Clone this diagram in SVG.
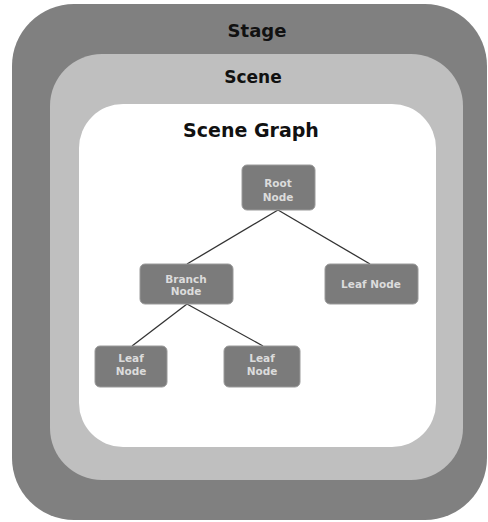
<svg xmlns="http://www.w3.org/2000/svg" width="488" height="522" viewBox="0 0 488 522">
<style>
.title{font-family:"DejaVu Sans",Verdana,sans-serif;font-weight:bold;fill:#111;text-anchor:middle}
.node rect{fill:#7b7b7b;stroke:#9a9a9a;stroke-width:1}
.node text{font-family:"DejaVu Sans",Verdana,sans-serif;font-size:10.5px;font-weight:bold;fill:#dcdcdc;text-anchor:middle}
.edge{stroke:#333;stroke-width:1.3;fill:none}
</style>
<rect width="488" height="522" fill="#fff"/>
<g id="stage">
<rect x="12" y="4" width="475" height="516" rx="62" fill="#808080"/>
<text class="title" x="257" y="37" font-size="18">Stage</text>
</g>
<g id="scene">
<rect x="50" y="54" width="413" height="426" rx="52" fill="#bfbfbf"/>
<text class="title" x="253" y="83" font-size="17">Scene</text>
</g>
<g id="scene-graph">
<rect x="79" y="104" width="357" height="343" rx="44" fill="#fff"/>
<text class="title" x="251" y="137" font-size="19">Scene Graph</text>
</g>
<g id="connectors">
<line class="edge" x1="278" y1="210" x2="187" y2="264"/>
<line class="edge" x1="278" y1="210" x2="370" y2="264"/>
<line class="edge" x1="187" y1="304" x2="132" y2="346"/>
<line class="edge" x1="187" y1="304" x2="263" y2="346"/>
</g>
<g id="root" class="node">
<rect x="242" y="165" width="73" height="45" rx="5"/>
<text x="278" y="187">Root</text>
<text x="278" y="201">Node</text>
</g>
<g id="leaf-right" class="node">
<rect x="325" y="264" width="93" height="40" rx="5"/>
<text x="371" y="288">Leaf Node</text>
</g>
<g id="branch" class="node">
<rect x="140" y="264" width="93" height="40" rx="5"/>
<text x="186" y="283">Branch</text>
<text x="186" y="295">Node</text>
</g>
<g id="leaf-left" class="node">
<rect x="95" y="346" width="72" height="41" rx="5"/>
<text x="131" y="362">Leaf</text>
<text x="131" y="375">Node</text>
</g>
<g id="leaf-mid" class="node">
<rect x="224" y="346" width="76" height="41" rx="5"/>
<text x="262" y="362">Leaf</text>
<text x="262" y="375">Node</text>
</g>
</svg>
